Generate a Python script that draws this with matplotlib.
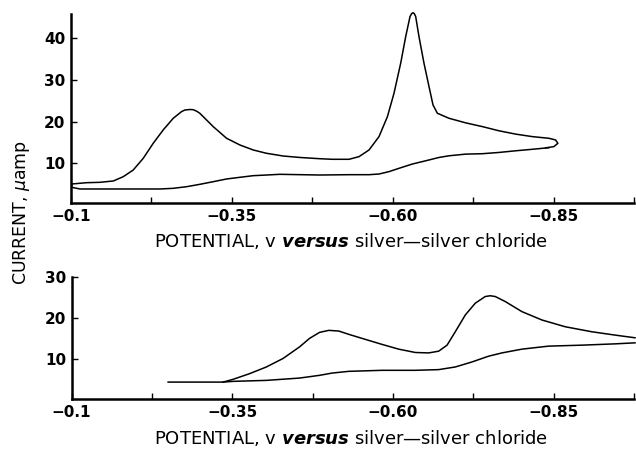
import matplotlib
matplotlib.use("Agg")
import matplotlib.pyplot as plt

plt.rcParams['font.family'] = ['DejaVu Sans']
plt.rcParams['mathtext.fontset'] = 'custom'
plt.rcParams['mathtext.rm'] = 'DejaVu Sans'
plt.rcParams['mathtext.it'] = 'DejaVu Sans:italic'
plt.rcParams['mathtext.bf'] = 'DejaVu Sans:bold'
plt.rcParams['mathtext.bfit'] = 'DejaVu Sans:italic:bold'

# top voltammogram: forward branch (with peaks) then return branch
top_fwd_v = [-0.1011, -0.1244, -0.145, -0.1657, -0.1812, -0.1967, -0.2123, -0.2278,
             -0.2433, -0.2589, -0.2719, -0.2770, -0.2848, -0.2899, -0.2952, -0.3003,
             -0.3054, -0.3210, -0.3418, -0.3624, -0.3831, -0.4039, -0.4297, -0.4556,
             -0.4866, -0.5064, -0.5321, -0.5477, -0.5632, -0.5787, -0.5918, -0.6020,
             -0.6124, -0.6202, -0.6269, -0.6295, -0.6315, -0.6335, -0.6357, -0.6408,
             -0.6486, -0.6564, -0.6626, -0.6694, -0.6874, -0.7134, -0.7393, -0.7650,
             -0.7910, -0.8169, -0.8427, -0.8531, -0.8567, -0.8505, -0.8376]
top_fwd_i = [5.04, 5.35, 5.44, 5.76, 6.79, 8.39, 11.2, 14.8,
             18.0, 20.8, 22.4, 22.78, 22.9, 22.86, 22.5, 21.98,
             21.2, 18.8, 16.0, 14.4, 13.2, 12.4, 11.75, 11.4,
             11.1, 10.96, 10.96, 11.6, 13.2, 16.4, 21.2, 26.8,
             34.0, 40.4, 45.2, 45.9, 46.1, 45.9, 45.2, 40.4,
             34.0, 28.4, 24.0, 22.0, 20.8, 19.7, 18.8, 17.8,
             17.0, 16.4, 16.0, 15.6, 14.8, 14.0, 13.7]
top_ret_v = [-0.8427, -0.8169, -0.7910, -0.7650, -0.7393, -0.7134, -0.6874, -0.6719,
             -0.6512, -0.6306, -0.6098, -0.5942, -0.5787, -0.5632, -0.5321, -0.4866,
             -0.4245, -0.4039, -0.3831, -0.3624, -0.3418, -0.3210, -0.3003, -0.2797,
             -0.2589, -0.2382, -0.1967, -0.145, -0.114, -0.1011, -0.1011]
top_ret_i = [13.74, 13.36, 13.0, 12.6, 12.3, 12.2, 11.8, 11.4,
             10.6, 9.83, 8.8, 8.0, 7.43, 7.27, 7.27, 7.19,
             7.36, 7.19, 7.03, 6.64, 6.24, 5.59, 4.96, 4.39,
             4.0, 3.84, 3.84, 3.84, 3.84, 4.24, 5.04]

# bottom voltammogram
bot_fwd_v = [-0.2503, -0.3357, -0.3512, -0.3772, -0.4031, -0.4289, -0.4548, -0.4703,
             -0.4859, -0.5003, -0.5158, -0.5314, -0.5573, -0.5832, -0.6090, -0.6349,
             -0.6556, -0.6711, -0.6842, -0.6970, -0.7126, -0.7281, -0.7436, -0.7514,
             -0.7592, -0.7747, -0.8006, -0.8317, -0.8679, -0.9093, -0.9455, -0.9766]
bot_fwd_i = [4.22, 4.22, 4.89, 6.30, 7.93, 10.0, 12.86, 14.94,
             16.42, 16.91, 16.74, 15.93, 14.69, 13.46, 12.30, 11.48,
             11.38, 11.80, 13.28, 16.57, 20.69, 23.58, 25.21, 25.4,
             25.21, 23.98, 21.51, 19.46, 17.80, 16.57, 15.75, 15.09]
bot_ret_v = [-0.3357, -0.3512, -0.4031, -0.4548, -0.4859, -0.5056, -0.5314, -0.5832,
             -0.6349, -0.6711, -0.6970, -0.7230, -0.7487, -0.7696, -0.8006, -0.8419,
             -0.8938, -0.9455, -0.9766]
bot_ret_i = [4.22, 4.40, 4.64, 5.21, 5.88, 6.44, 6.86, 7.11,
             7.11, 7.28, 7.93, 9.16, 10.57, 11.38, 12.30, 13.04,
             13.28, 13.60, 13.85]

xticks = [-0.1, -0.225, -0.35, -0.475, -0.6, -0.725, -0.85, -0.975]
xticklabels = ['\u22120.1', '', '\u22120.35', '', '\u22120.60', '', '\u22120.85', '']
top_yticks = [10, 20, 30, 40]
bot_yticks = [10, 20, 30]

xlabel = 'POTENTIAL, v $\\mathbfit{versus}$ silver\u2014silver chloride'
ylabel = 'CURRENT, $\\mu$amp'

fig = plt.figure(figsize=(6.36, 4.49), dpi=100)
ax1 = fig.add_axes([71 / 636, 1 - 203 / 449, (634 - 71) / 636, (203 - 14.3) / 449])
ax2 = fig.add_axes([71.5 / 636, 1 - 399.3 / 449, (634 - 71.5) / 636, (399.3 - 277) / 449])


def style(ax, yticks):
    for s in ['top', 'right']:
        ax.spines[s].set_visible(False)
    for s in ['left', 'bottom']:
        ax.spines[s].set_linewidth(1.8)
    ax.set_xlim(-0.1, -0.974)
    ax.set_xticks(xticks)
    ax.set_xticklabels(xticklabels)
    ax.set_yticks(yticks)
    ax.tick_params(direction='in', length=4, width=1, pad=4)
    for lab in ax.get_xticklabels() + ax.get_yticklabels():
        lab.set_fontweight('bold')
        lab.set_fontsize(11)


ax1.plot(top_fwd_v, top_fwd_i, color='black', lw=1.1, clip_on=False)
ax1.plot(top_ret_v, top_ret_i, color='black', lw=1.1, clip_on=False)
ax1.set_ylim(0.48, 45.73)
style(ax1, top_yticks)

ax2.plot(bot_fwd_v, bot_fwd_i, color='black', lw=1.1, clip_on=False)
ax2.plot(bot_ret_v, bot_ret_i, color='black', lw=1.1, clip_on=False)
ax2.set_ylim(0, 30)
style(ax2, bot_yticks)

fig.text(351 / 636, 1 - 241 / 449, xlabel, ha='center', va='center', fontsize=13)
fig.text(351 / 636, 1 - 438 / 449, xlabel, ha='center', va='center', fontsize=13)
fig.text(22 / 636, 1 - 212 / 449, ylabel, ha='center', va='center', rotation=90, fontsize=12.5)

fig.savefig('out.png', dpi=100)
